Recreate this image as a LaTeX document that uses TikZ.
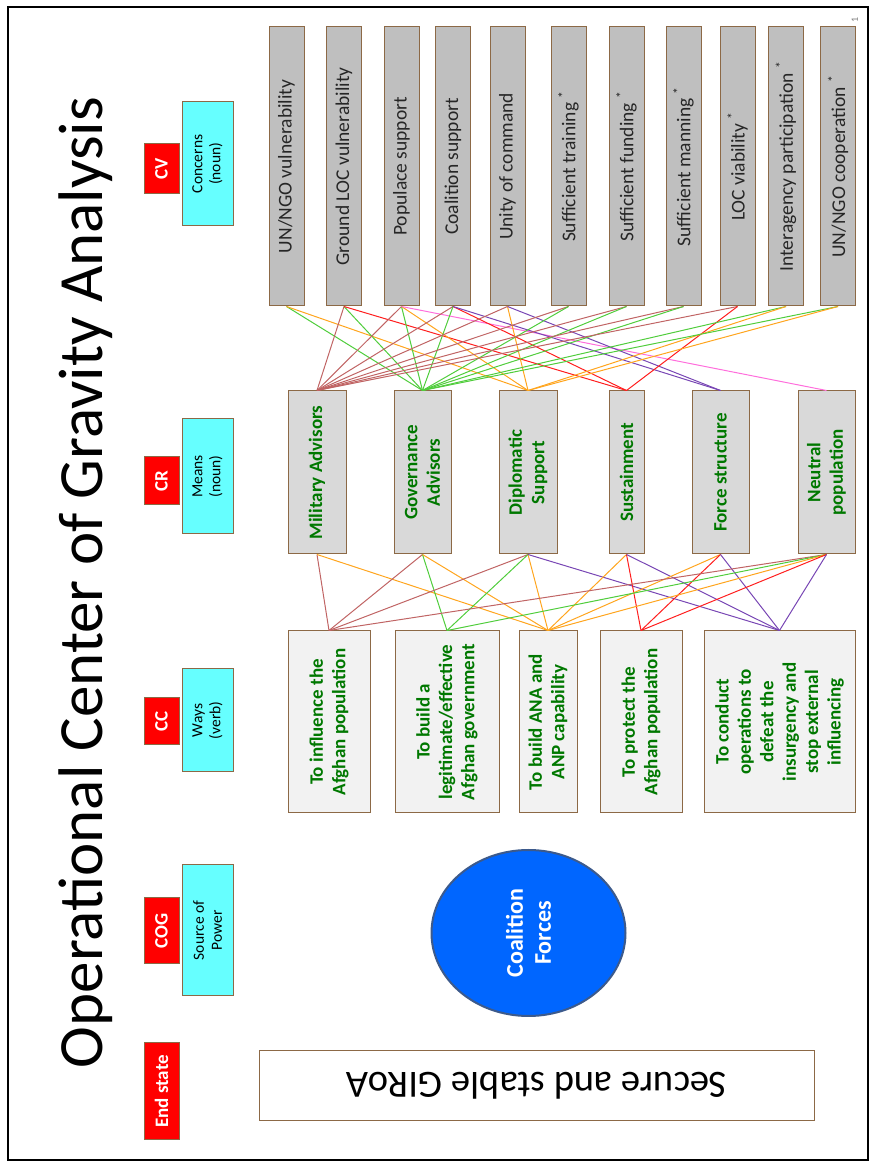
\documentclass[tikz,border=0pt]{standalone}
\usepackage{fontspec}
\setmainfont{Carlito}
\usetikzlibrary{shapes.geometric}
\definecolor{brd}{RGB}{140,105,70}
\definecolor{topgray}{RGB}{191,191,191}
\definecolor{midgray}{RGB}{217,217,217}
\definecolor{lowgray}{RGB}{242,242,242}
\definecolor{cyanbox}{RGB}{102,255,255}
\definecolor{redbox}{RGB}{255,0,0}
\definecolor{txtgreen}{RGB}{0,120,0}
\definecolor{ellblue}{RGB}{0,102,255}
\definecolor{ellbrd}{RGB}{60,90,140}
\definecolor{cbrn}{RGB}{192,100,100}
\definecolor{cgrn}{RGB}{80,205,60}
\definecolor{corg}{RGB}{255,165,30}
\definecolor{cred}{RGB}{255,30,30}
\definecolor{cpur}{RGB}{120,70,180}
\definecolor{cpnk}{RGB}{255,110,220}
\begin{document}
\begin{tikzpicture}[x=1pt,y=1pt,
  rbox/.style={draw=brd, line width=1pt, rotate=90, inner sep=0pt, align=center},
  cvbox/.style={rbox, fill=topgray, minimum width=279pt, minimum height=35pt, text=black!85, font=\fontsize{19.5}{22}\selectfont},
  crbox/.style={rbox, fill=midgray, minimum width=163pt, text=txtgreen, font=\bfseries\fontsize{19}{22.4}\selectfont},
  ccbox/.style={rbox, fill=lowgray, minimum width=182pt, text=txtgreen, font=\bfseries\fontsize{19}{22.4}\selectfont},
  redlab/.style={rbox, fill=redbox, minimum height=35pt, text=white, font=\bfseries\fontsize{19}{21}\selectfont},
  cyanlab/.style={rbox, fill=cyanbox, minimum height=51pt, text=black, font=\fontsize{15.5}{18}\selectfont},
  conn/.style={line width=1pt}
]
\useasboundingbox (0,0) rectangle (876,1168);
\draw[line width=2pt] (8,8) rectangle (868,1161);

% title
\node[rotate=90, anchor=base, inner sep=0pt, font=\fontsize{63}{70}\selectfont] (title) at (102,585.5) {Operational Center of Gravity Analysis};
\node[rotate=90, text=gray, inner sep=0pt, font=\fontsize{10}{12}\selectfont] (pg) at (855,1148) {1};

% left labels
\node[redlab, minimum width=50pt] (lcv) at (161.5,999) {CV};
\node[redlab, minimum width=48pt] (lcr) at (161.5,687) {CR};
\node[redlab, minimum width=47pt] (lcc) at (161.5,446.5) {CC};
\node[redlab, minimum width=66pt] (lcog) at (161.5,237) {COG};
\node[redlab, minimum width=97pt] (les) at (161.5,76.5) {End state};
\node[cyanlab, minimum width=124pt] (dcv) at (207.5,1004) {Concerns\\(noun)};
\node[cyanlab, minimum width=115pt] (dcr) at (207.5,691.5) {Means\\(noun)};
\node[cyanlab, minimum width=103pt] (dcc) at (207.5,447.5) {Ways\\(verb)};
\node[cyanlab, minimum width=131pt] (dcog) at (207.5,237.5) {Source of\\Power};

% CV boxes
\node[cvbox] (t1) at (286.5,1001.5) {UN/NGO vulnerability};
\node[cvbox] (t2) at (344,1001.5) {Ground LOC vulnerability};
\node[cvbox] (t3) at (401.5,1001.5) {Populace support};
\node[cvbox] (t4) at (453,1001.5) {Coalition support};
\node[cvbox] (t5) at (507.5,1001.5) {Unity of command};
\node[cvbox] (t6) at (568.5,1001.5) {Sufficient training \textsuperscript{*}};
\node[cvbox] (t7) at (626.5,1001.5) {Sufficient funding \textsuperscript{*}};
\node[cvbox] (t8) at (683.5,1001.5) {Sufficient manning \textsuperscript{*}};
\node[cvbox] (t9) at (737.5,1001.5) {LOC viability \textsuperscript{*}};
\node[cvbox] (t10) at (786,1001.5) {Interagency participation \textsuperscript{*}};
\node[cvbox] (t11) at (838,1001.5) {UN/NGO cooperation \textsuperscript{*}};

% CR boxes
\node[crbox, minimum height=58pt] (r1) at (317,695.5) {Military Advisors};
\node[crbox, minimum height=57pt] (r2) at (422.5,695.5) {Governance\\Advisors};
\node[crbox, minimum height=58pt] (r3) at (528,695.5) {Diplomatic\\Support};
\node[crbox, minimum height=35pt] (r4) at (626.5,695.5) {Sustainment};
\node[crbox, minimum height=57pt] (r5) at (720.5,695.5) {Force structure};
\node[crbox, minimum height=57pt] (r6) at (826.5,695.5) {Neutral\\population};

% CC boxes
\node[ccbox, minimum height=82pt] (c1) at (329,446) {To influence the\\Afghan population};
\node[ccbox, minimum height=104pt] (c2) at (447,446) {To build a\\legitimate/effective\\Afghan government};
\node[ccbox, minimum height=58pt] (c3) at (548,446) {To build ANA and\\ANP capability};
\node[ccbox, minimum height=82pt] (c4) at (641,446) {To protect the\\Afghan population};
\node[ccbox, minimum height=151pt] (c5) at (779.5,446) {To conduct\\operations to\\defeat the\\insurgency and\\stop external\\influencing};

% COG ellipse
\node[ellipse, rotate=90, draw=ellbrd, line width=2pt, fill=ellblue, minimum width=166pt, minimum height=194pt, inner sep=0pt, align=center, text=white, font=\bfseries\fontsize{24}{28}\selectfont] (cog) at (528.5,235) {Coalition\\Forces};

% End state
\node[draw=brd, line width=1pt, fill=white, rotate=180, minimum width=555pt, minimum height=70pt, inner sep=0pt, font=\fontsize{38.5}{42}\selectfont] (es) at (536.5,82) {Secure and stable GIRoA};

% connectors CV -> CR
\foreach \a/\b/\c in {t1/r2/cgrn, t1/r3/corg,
  t2/r1/cbrn, t2/r2/cgrn, t2/r4/cred,
  t3/r1/cbrn, t3/r2/cgrn, t3/r3/corg, t3/r6/cpnk,
  t4/r1/cbrn, t4/r2/cgrn, t4/r4/cred, t4/r5/cpur,
  t5/r1/cbrn, t5/r3/corg, t5/r5/cpur,
  t6/r1/cbrn, t6/r2/cgrn,
  t7/r1/cbrn, t7/r2/cgrn,
  t8/r1/cbrn, t8/r2/cgrn,
  t9/r1/cbrn, t9/r4/cred,
  t10/r2/cgrn, t10/r3/corg,
  t11/r2/cgrn, t11/r3/corg}
  \draw[conn, \c] (\a.west) -- (\b.east);

% connectors CR -> CC
\foreach \a/\b/\c in {r1/c1/cbrn, r1/c3/corg,
  r2/c1/cbrn, r2/c2/cgrn, r2/c3/corg,
  r3/c1/cbrn, r3/c2/cgrn, r3/c3/corg, r3/c5/cpur,
  r4/c3/corg, r4/c4/cred, r4/c5/cpur,
  r5/c3/corg, r5/c4/cred, r5/c5/cpur,
  r6/c1/cbrn, r6/c2/cgrn, r6/c3/corg, r6/c4/cred, r6/c5/cpur}
  \draw[conn, \c] (\a.west) -- (\b.east);
\end{tikzpicture}
\end{document}
